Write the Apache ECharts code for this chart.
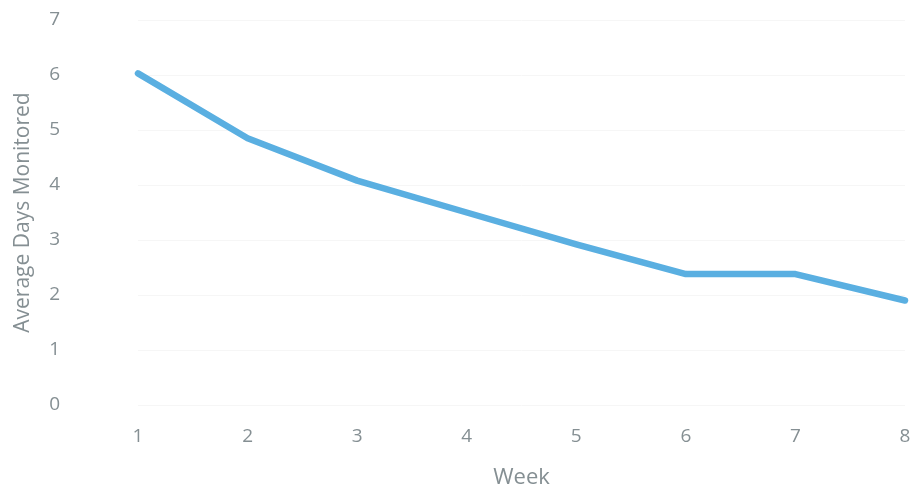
<!DOCTYPE html>
<html>
<head>
<meta charset="utf-8">
<script src="https://cdn.jsdelivr.net/npm/echarts@6/dist/echarts.min.js"></script>
<style>
  html, body { margin: 0; padding: 0; background: #fff; }
  #chart { width: 912px; height: 489px; }
</style>
</head>
<body>
<div id="chart"></div>
<script>
const weeks = ['1', '2', '3', '4', '5', '6', '7', '8']
const avgDays = [6.03, 4.85, 4.08, 3.5, 2.92, 2.38, 2.38, 1.9]

const labelColor = '#858f93'

const chart = echarts.init(document.getElementById('chart'))
chart.setOption({
  animation: false,
  grid: { left: 138, right: 7, top: 20, bottom: 84, outerBoundsMode: 'none' },
  xAxis: {
    type: 'category',
    data: weeks,
    boundaryGap: false,
    name: 'Week',
    nameLocation: 'middle',
    nameGap: 62,
    nameTextStyle: { color: labelColor, fontSize: 22, fontFamily: 'Open Sans' },
    axisLine: { show: false },
    axisTick: { show: false },
    axisLabel: { color: labelColor, fontSize: 19, fontFamily: 'Open Sans', margin: 22 },
    splitLine: { show: false }
  },
  yAxis: {
    type: 'value',
    min: 0,
    max: 7,
    interval: 1,
    name: 'Average Days Monitored',
    nameLocation: 'middle',
    nameRotate: 90,
    nameGap: 104,
    nameTextStyle: { color: labelColor, fontSize: 21, fontFamily: 'Open Sans' },
    axisLine: { show: false },
    axisTick: { show: false },
    axisLabel: { color: labelColor, fontSize: 19, fontFamily: 'Open Sans', margin: 78 },
    splitLine: { lineStyle: { color: '#f6f6f6', width: 1 } }
  },
  series: [
    {
      type: 'line',
      data: avgDays,
      symbol: 'none',
      lineStyle: { color: '#5aafe1', width: 6.5, cap: 'round', join: 'round' }
    }
  ]
})
</script>
</body>
</html>
